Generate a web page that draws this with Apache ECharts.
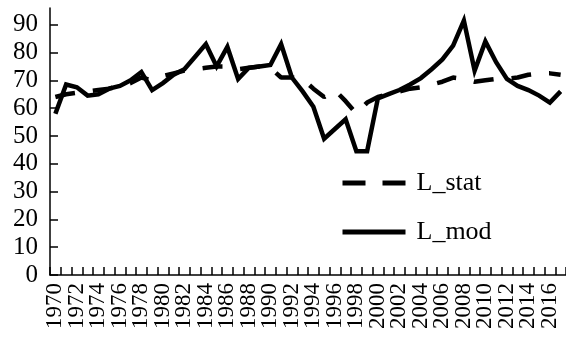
<!DOCTYPE html>
<html>
<head>
<meta charset="utf-8">
<script src="https://cdn.jsdelivr.net/npm/echarts@6/dist/echarts.min.js"></script>
<style>
  html, body { margin: 0; padding: 0; background: #fff; }
  #chart { width: 566px; height: 337px; }
</style>
</head>
<body>
<div id="chart"></div>
<script>
// Years on the horizontal axis
const years = [
  '1970','1971','1972','1973','1974','1975','1976','1977','1978','1979',
  '1980','1981','1982','1983','1984','1985','1986','1987','1988','1989',
  '1990','1991','1992','1993','1994','1995','1996','1997','1998','1999',
  '2000','2001','2002','2003','2004','2005','2006','2007','2008','2009',
  '2010','2011','2012','2013','2014','2015','2016','2017'
];

// Statistical series (dashed)
const lStat = [
  64, 65, 65.5, 66, 66.5, 67, 68, 69, 71, 70,
  71.5, 72.5, 73.5, 74, 74.5, 75, 75, 74, 74.5, 75,
  74.5, 71, 71, 70.5, 67, 64, 66.5, 62.5, 58, 62,
  64, 65, 66, 67, 67.5, 68.5, 69.5, 71, 70.5, 69.5,
  70, 70.5, 70.5, 71, 72, 72.5, 72.5, 72
];

// Model series (solid)
const lMod = [
  58, 68.5, 67.5, 64.5, 65, 67, 68, 70, 73, 66.5,
  69, 72, 74, 78.5, 83, 75, 82, 70.5, 74.5, 75,
  75.5, 83, 71, 66, 60.5, 49, 52.5, 56, 44.5, 44.5,
  63.5, 65, 66.5, 68.5, 70.8, 74, 77.5, 82.5, 91.5, 73.5,
  84, 76.5, 70.5, 68, 66.5, 64.5, 62, 66
];

// Value axis tick labels
const yTicks = [0, 10, 20, 30, 40, 50, 60, 70, 80, 90];

const FONT = 'Liberation Serif';
const INK = '#000';
const CLEAR = 'rgba(0,0,0,0)';

const labelFont = { fontFamily: FONT, fontSize: 23, color: INK };

const chart = echarts.init(document.getElementById('chart'), null, { renderer: 'canvas' });

chart.setOption({
  animation: false,
  backgroundColor: '#fff',
  grid: { left: 50, top: 8, width: 523, height: 267, containLabel: false },
  legend: {
    orient: 'vertical',
    left: 335,
    top: 165,
    itemWidth: 63,
    itemHeight: 26,
    itemGap: 23,
    textStyle: { fontFamily: FONT, fontSize: 26, color: INK, padding: [0, 0, 0, 6] },
    data: [
      {
        name: 'L_stat',
        itemStyle: { color: CLEAR, borderColor: CLEAR, borderWidth: 0, opacity: 0 },
        lineStyle: { type: [23, 17], width: 5, cap: 'butt', color: INK }
      },
      {
        name: 'L_mod',
        itemStyle: { color: CLEAR, borderColor: CLEAR, borderWidth: 0, opacity: 0 },
        lineStyle: { type: 'solid', width: 5, color: INK }
      }
    ]
  },
  xAxis: [
    {
      // main year axis: line, yearly ticks, labels every second year
      type: 'category',
      data: years,
      boundaryGap: true,
      axisLine: { show: true, lineStyle: { color: INK, width: 1.5 } },
      axisTick: { show: true, inside: true, length: 8, interval: 0, lineStyle: { color: INK, width: 1.5 } },
      axisLabel: Object.assign({ interval: 1, rotate: 90, margin: 8 }, labelFont),
      splitLine: { show: false }
    },
    {
      // end labels of the same year axis (first and last labelled year)
      type: 'category',
      data: years,
      boundaryGap: true,
      position: 'bottom',
      gridIndex: 0,
      axisLine: { show: false },
      axisTick: { show: false },
      axisLabel: Object.assign({
        interval: function (index) { return index === 0 || index === 46; },
        rotate: 90,
        margin: 8
      }, labelFont),
      splitLine: { show: false }
    }
  ],
  yAxis: {
    type: 'value',
    min: 0,
    max: 96,
    interval: 10,
    axisLine: { show: true, lineStyle: { color: INK, width: 1.5 } },
    axisTick: { show: true, inside: true, length: 8, customValues: yTicks, lineStyle: { color: INK, width: 1.5 } },
    axisLabel: {
      customValues: yTicks,
      margin: 12,
      fontFamily: FONT,
      fontSize: 25,
      color: INK
    },
    splitLine: { show: false }
  },
  series: [
    {
      name: 'L_stat',
      type: 'line',
      data: lStat,
      symbol: 'none',
      color: INK,
      lineStyle: { color: INK, width: 4.5, type: [20, 18], cap: 'butt' },
      z: 2
    },
    {
      name: 'L_mod',
      type: 'line',
      data: lMod,
      symbol: 'none',
      color: INK,
      lineStyle: { color: INK, width: 4.5, type: 'solid', join: 'miter' },
      z: 3
    }
  ]
});
</script>
</body>
</html>
